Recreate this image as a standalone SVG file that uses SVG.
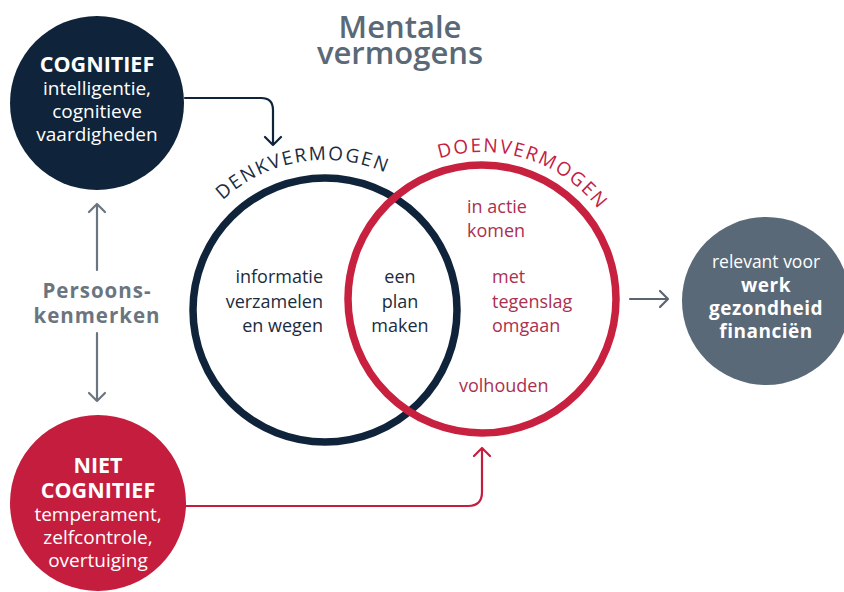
<svg xmlns="http://www.w3.org/2000/svg" width="844" height="592" viewBox="0 0 844 592">
<defs>
<style>
text{font-family:"Open Sans","Noto Sans","Liberation Sans",sans-serif;}
.title{font-size:31px;font-weight:600;fill:#5b6977;text-anchor:middle;}
.wb{font-size:21.5px;font-weight:700;fill:#ffffff;text-anchor:middle;}
.w{font-size:19px;fill:#ffffff;text-anchor:middle;}
.nv{font-size:18px;fill:#1b2c40;}
.rd{font-size:18px;fill:#ad2f4f;}
.pk{font-size:20.5px;font-weight:700;fill:#6b7580;text-anchor:middle;letter-spacing:1px;}
.arcn{font-size:19px;fill:#1b2c40;letter-spacing:1.8px;}
.arcr{font-size:19px;fill:#c4203f;letter-spacing:1.8px;}
.gw{font-size:17.5px;fill:#ffffff;text-anchor:middle;}
.gwb{font-size:19px;font-weight:700;fill:#ffffff;text-anchor:middle;letter-spacing:0.5px;}
.con{fill:none;stroke-width:2.2;stroke-linecap:round;stroke-linejoin:round;}
</style>
<path id="arcDenk" d="M175,310 A150,150 0 0 1 475,310"/>
<path id="arcDoen" d="M335,299 A147,147 0 0 1 629,299"/>
</defs>
<rect width="844" height="592" fill="#ffffff"/>

<g id="title">
<text class="title" x="400" y="38">Mentale</text>
<text class="title" x="400" y="64">vermogens</text>
</g>

<g id="cognitief">
<circle cx="97" cy="103" r="87" fill="#0f243a"/>
<text class="wb" x="97" y="72">COGNITIEF</text>
<text class="w" x="97" y="95">intelligentie,</text>
<text class="w" x="97" y="118">cognitieve</text>
<text class="w" x="97" y="141">vaardigheden</text>
</g>

<g id="persoonskenmerken">
<text class="pk" x="97" y="298">Persoons-</text>
<text class="pk" x="97" y="323">kenmerken</text>
</g>

<g id="niet-cognitief">
<circle cx="98" cy="503" r="88" fill="#c41d3d"/>
<text class="wb" x="98" y="473">NIET</text>
<text class="wb" x="98" y="498">COGNITIEF</text>
<text class="w" x="98" y="521">temperament,</text>
<text class="w" x="98" y="544">zelfcontrole,</text>
<text class="w" x="98" y="567">overtuiging</text>
</g>

<g id="denkvermogen">
<circle cx="325" cy="310" r="132" fill="none" stroke="#0f243a" stroke-width="7.5"/>
<text class="arcn"><textPath href="#arcDenk" startOffset="211" text-anchor="middle">DENKVERMOGEN</textPath></text>
<text class="nv" x="323" y="283" text-anchor="end">informatie</text>
<text class="nv" x="323" y="308" text-anchor="end">verzamelen</text>
<text class="nv" x="323" y="332" text-anchor="end">en wegen</text>
</g>

<g id="doenvermogen">
<circle cx="482" cy="299" r="134" fill="none" stroke="#c8203f" stroke-width="7.5"/>
<text class="arcr"><textPath href="#arcDoen" startOffset="277" text-anchor="middle">DOENVERMOGEN</textPath></text>
<text class="rd" x="467" y="213">in actie</text>
<text class="rd" x="467" y="237">komen</text>
<text class="rd" x="492" y="283">met</text>
<text class="rd" x="492" y="308">tegenslag</text>
<text class="rd" x="492" y="332">omgaan</text>
<text class="rd" x="459" y="392">volhouden</text>
</g>

<g id="overlap">
<text class="nv" x="400" y="283" text-anchor="middle">een</text>
<text class="nv" x="400" y="308" text-anchor="middle">plan</text>
<text class="nv" x="400" y="332" text-anchor="middle">maken</text>
</g>

<g id="relevant">
<circle cx="766" cy="301" r="84" fill="#5a6978"/>
<text class="gw" x="766" y="268">relevant voor</text>
<text class="gwb" x="766" y="292">werk</text>
<text class="gwb" x="766" y="315">gezondheid</text>
<text class="gwb" x="766" y="338">financiën</text>
</g>

<g id="connectors">
<path class="con" stroke="#0f243a" d="M185,98 H261 Q273,98 273,110 V145 M265,137 L273,145 L281,137"/>
<path class="con" stroke="#c41d3d" d="M185,506 H468 Q482,506 482,492 V448 M474,456 L482,448 L490,456"/>
<path class="con" stroke="#6b7580" stroke-width="2.5" d="M97,270 V204 M89,212 L97,204 L105,212"/>
<path class="con" stroke="#6b7580" stroke-width="2.5" d="M97,333 V401 M89,393 L97,401 L105,393"/>
<path class="con" stroke="#5a6570" d="M630,299 H667 M660,291 L668,299 L660,307"/>
</g>
</svg>
